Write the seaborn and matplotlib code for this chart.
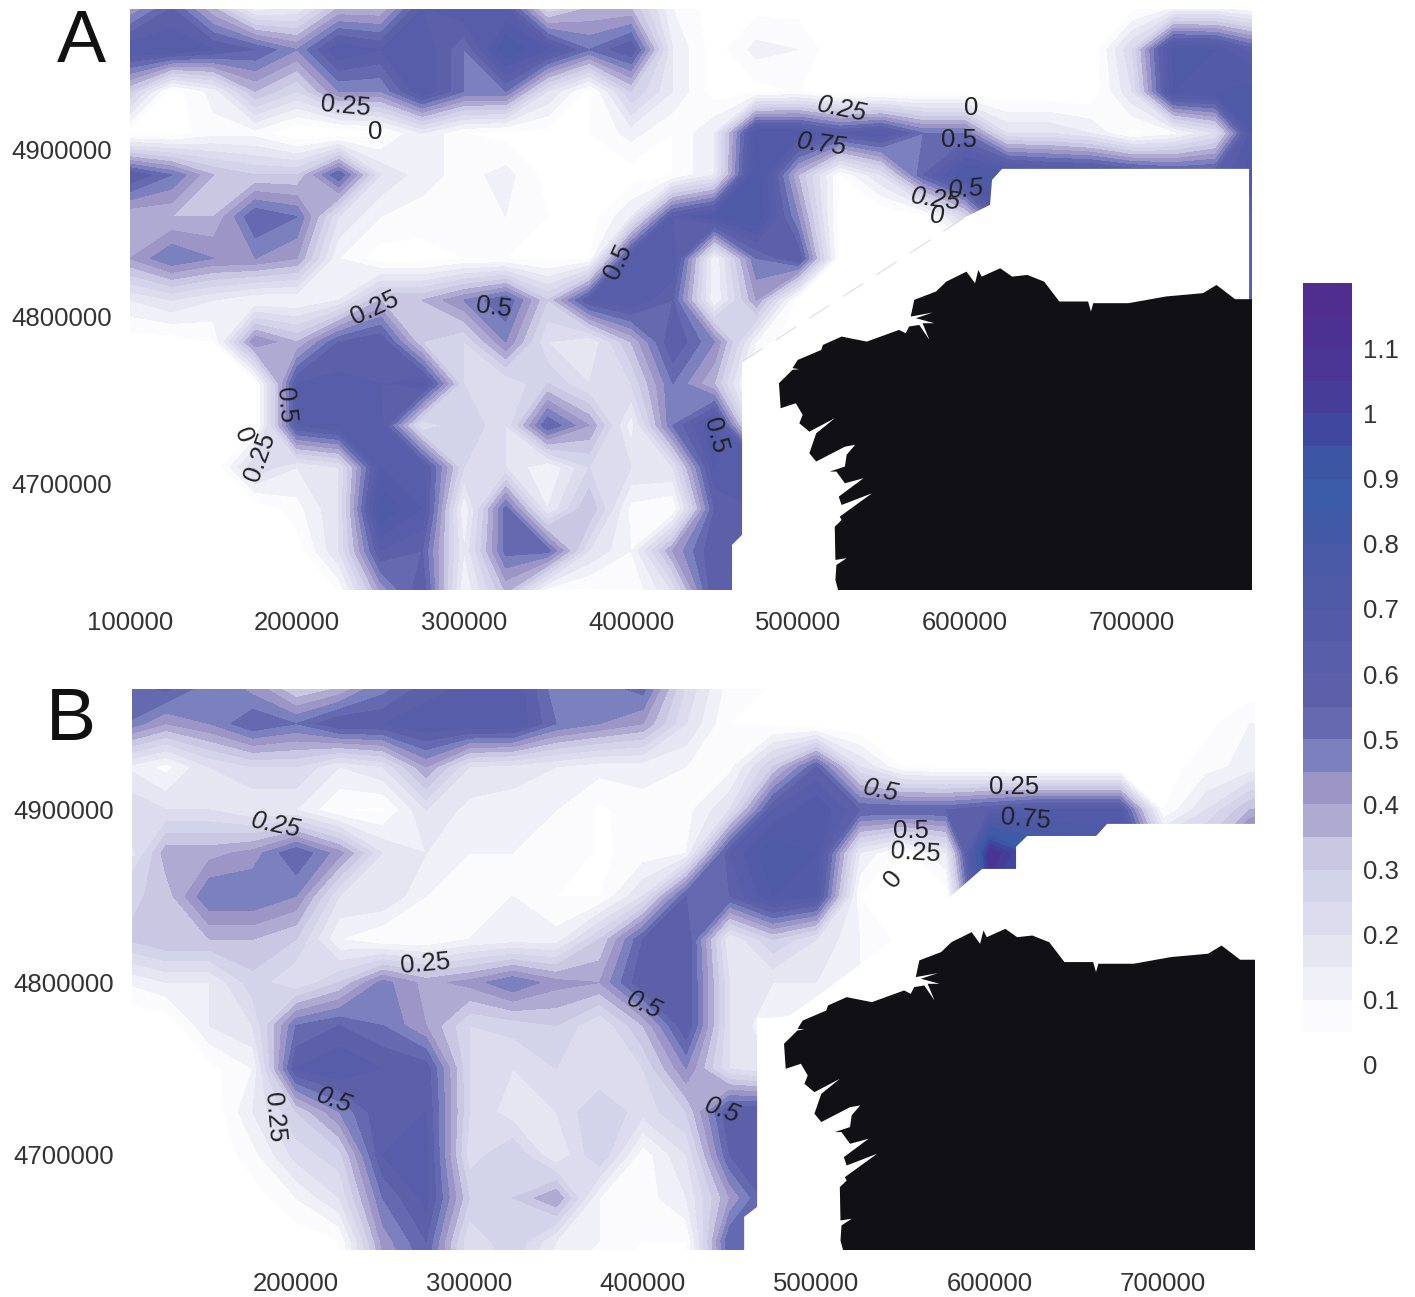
import matplotlib
matplotlib.use("Agg")

import matplotlib.pyplot as plt
import numpy as np
import seaborn as sns

# grid of the interpolated maps, metres
grid_x = np.arange(100000, 800000, 25000)
grid_y_a = np.arange(4985000, 4610000, -25000)
grid_y_b = np.arange(4975000, 4600000, -25000)

# panel A values, one row per grid_y_a
density_a = [
    [.4, .55, .35, .12, .15, .35, .35, .6, .65, .6, .25, .35, .35, .1, .02, .03, .03, 0, 0, 0, 0, 0, 0, 0, .03, .1, .1, .05],
    [.65, .65, .6, .55, .45, .65, .6, .65, .5, .75, .65, .5, .6, .15, .02, .12, .1, 0, 0, 0, 0, 0, 0, 0, .25, .72, .7, .55],
    [.3, .02, .12, .35, .25, .45, .45, .65, .5, .5, .2, .03, .3, .15, .02, .03, .05, 0, 0, 0, 0, 0, 0, 0, .2, .7, .7, .75],
    [.02, .02, .08, .08, 0, 0, .03, .15, .05, .03, .03, .05, .12, .05, .15, .7, .7, .6, .65, .5, .5, .2, .2, .15, .03, .08, .2, .75],
    [.6, .5, .35, .3, .3, .55, .2, .12, .08, .12, .03, .02, .02, .05, .15, .75, .35, .05, .2, .55, .75, .75, .7, .7, .65, .6, .6, .75],
    [.35, .35, .35, .55, .5, .2, .1, .08, .1, .1, .05, .02, .15, .6, .7, .75, .45, .02, 0, .02, .25, .7, .7, .7, .65, .6, .6, .6],
    [.4, .5, .45, .45, .4, .1, .02, .02, .05, .05, .03, .05, .65, .65, .1, .5, .6, .03, 0, 0, 0, 0, 0, 0, 0, 0, .5, .6],
    [.15, .2, .15, .1, .1, .15, .35, .35, .45, .55, .3, .6, .65, .55, .1, .4, .02, 0, 0, 0, 0, 0, 0, 0, 0, 0, .5, .6],
    [.02, .02, .05, .45, .35, .55, .6, .3, .25, .45, .2, .15, .35, .6, .45, .1] + [0] * 12,
    [0, 0, .03, .03, .6, .62, .6, .65, .25, .2, .3, .2, .25, .5, .35, 0] + [0] * 12,
    [0, 0, 0, .03, .6, .65, .62, .2, .3, .2, .55, .4, .12, .5, .7, .1] + [0] * 12,
    [0, 0, 0, .25, .15, .2, .65, .62, .25, .2, .1, .25, .2, .2, .65, .65] + [0] * 12,
    [.02, 0, 0, 0, .08, .2, .75, .65, .1, .52, .15, .35, .08, .05, .55, .6] + [0] * 12,
    [.03, .02, 0, .03, .02, .2, .6, .55, .15, .52, .52, .2, .1, .4, .6, .6] + [0] * 12,
    [.02, 0, 0, 0, 0, .05, .4, .6, .1, .35, .05, .03, .05, .2, .6, .6] + [0] * 12,
]

# panel B values, one row per grid_y_b
density_b = [
    [.55, .6, .5, .4, .25, .3, .45, .55, .6, .65, .45, .5, .55, .25, .08, .05] + [0] * 12,
    [.5, .4, .45, .55, .5, .6, .6, .65, .65, .65, .5, .45, .4, .2, .05, .03, 0, 0, 0, 0, 0, 0, 0, 0, 0, .03, .1, .1],
    [.15, .08, .2, .25, .25, .15, .2, .4, .2, .18, .15, .12, .12, .1, .08, .3, .55, .2, .05, .03, .02, 0, 0, 0, .02, .08, .12, .15],
    [.25, .2, .2, .15, .15, .05, .04, .2, .13, .12, .1, .04, .08, .08, .2, .6, .7, .55, .55, .55, .6, .65, .65, .65, .05, .2, .35, .4],
    [.12, .38, .38, .42, .55, .42, .2, .15, .1, .1, .1, .04, .07, .1, .6, .75, .7, .15, .02, .15, 1.1, .9, .8, .8, .3, .35, .6, .6],
    [.28, .32, .5, .5, .45, .2, .2, .1, .1, .1, .05, .05, .2, .55, .55, .7, .65, .05, 0, .02, 1.0, .9, .6, .6, .6, .6, .6, .6],
    [.3, .35, .35, .35, .3, .1, .05, .05, .1, .12, .12, .3, .55, .6, .15, .3, .2, .1, .03] + [0] * 9,
    [.1, .15, .15, .28, .2, .3, .47, .38, .42, .5, .42, .4, .6, .6, .2, .15, .15, .1] + [0] * 10,
    [0, 0, .15, .2, .5, .55, .5, .4, .25, .27, .3, .2, .35, .6, .2, .1] + [0] * 12,
    [0, 0, .03, .1, .6, .65, .6, .58, .25, .2, .25, .2, .25, .45, .2, .15] + [0] * 12,
    [0, 0, 0, .15, .3, .45, .6, .6, .25, .17, .2, .3, .22, .3, .6, .6] + [0] * 12,
    [0, 0, 0, .08, .22, .28, .6, .62, .22, .3, .15, .3, .07, .2, .55, .6] + [0] * 12,
    [0, 0, 0, .02, .1, .2, .5, .62, .3, .3, .4, .1, .07, .15, .4, .6] + [0] * 12,
    [.03, 0, 0, 0, .01, .05, .42, .55, .2, .3, .15, .1, .05, .05, .55, .55] + [0] * 12,
    [0, 0, 0, 0, 0, .02, .35, .5, .2, .25, .1, .05, .03, .05, .5, .5] + [0] * 12,
]

# colour bands, 0.05 wide, from 0 to 1.2
levels = np.round(np.arange(0, 1.2001, 0.05), 2)
band_colors = [
    "#ffffff", "#fbfbfd", "#eff0f8", "#e5e6f2", "#dcdcee", "#d3d3e9", "#c9c7e2", "#aeaad2",
    "#9c95c6", "#7b80bf", "#6569b0", "#5b60a9", "#575da9", "#535ba8", "#4e5aa6", "#4a5aa6",
    "#4259a6", "#3b5ca8", "#3c56a4", "#40479e", "#463d98", "#4a3594", "#4d3192", "#502e90",
]
bar_ticks = [0, .1, .2, .3, .4, .5, .6, .7, .8, .9, 1, 1.1]
bar_tick_labels = ["0", "0.1", "0.2", "0.3", "0.4", "0.5", "0.6", "0.7", "0.8", "0.9", "1", "1.1"]

# coast of panel A, km
land_x_km = [524.0, 522.4, 523.0, 529.1, 522.4, 522.0, 526.1, 525.0, 544.3, 526.1, 524.4, 539.2, 528.1, 523.0, 519.0,
             528.1, 529.1, 534.2, 528.1, 510.9, 506.8, 510.9, 522.0, 506.8, 500.8, 502.8, 498.7, 489.6, 488.6, 496.7,
             500.8, 496.7, 499.8, 513.9, 514.9, 526.1, 541.2, 560.5, 564.5, 566.5, 572.6, 578.7, 574.6, 581.7, 570.6,
             580.7, 567.5, 569.6, 582.7, 588.8, 600.9, 606.0, 608.0, 610.0, 621.1, 628.2, 637.3, 647.4, 656.5, 673.7,
             675.4, 676.8, 698.0, 720.3, 742.5, 750.6, 761.7, 771.9, 771.9]
land_y_km = [4636.5, 4642.5, 4651.5, 4655.5, 4654.5, 4674.4, 4678.4, 4680.4, 4694.4, 4687.4, 4692.4, 4703.4, 4700.4,
             4707.4, 4707.4, 4710.4, 4717.4, 4723.4, 4722.3, 4713.4, 4718.4, 4730.3, 4739.3, 4731.3, 4736.3, 4741.3,
             4748.3, 4745.3, 4760.3, 4768.3, 4768.7, 4769.3, 4774.2, 4780.2, 4783.2, 4788.2, 4785.2, 4792.2, 4790.2,
             4794.2, 4795.2, 4786.2, 4796.2, 4796.2, 4799.2, 4802.6, 4800.2, 4810.2, 4815.2, 4821.1, 4827.1, 4820.1,
             4828.1, 4824.1, 4829.1, 4824.1, 4825.1, 4821.1, 4809.2, 4809.2, 4803.2, 4808.2, 4808.2, 4812.2, 4814.2,
             4819.1, 4810.6, 4810.6, 4636.5]

# no-data areas, km
blank_x_a = [460.5, 460.5, 466.5, 466.5, 600.6, 615.0, 616.2, 622.2, 770.1, 770.1]
blank_y_a = [4630.0, 4663.5, 4669.5, 4773.1, 4859.9, 4867.1, 4882.0, 4888.6, 4888.6, 4630.0]
blank_x_b = [458.4, 458.4, 465.9, 465.9, 473.4, 484.9, 513.2, 573.1, 595.6, 615.2, 615.2, 621.6, 661.4, 667.7, 760.0, 760.0]
blank_y_b = [4640.0, 4664.1, 4669.9, 4779.4, 4779.4, 4780.6, 4801.4, 4846.1, 4865.8, 4865.8, 4878.6, 4884.9, 4884.9,
             4891.9, 4891.9, 4640.0]

# contour labels: text, x km, y km, rotation, italic
labels_a = [
    ("0.25", 229.3, 4926.3, -5, False), ("0", 246.7, 4910.8, 0, False), ("0.25", 526.3, 4924.0, -12, True),
    ("0", 603.6, 4925.1, 0, False), ("0.75", 514.4, 4903.0, -8, True), ("0.5", 596.4, 4906.0, 0, False),
    ("0.25", 582.6, 4870.1, -8, True), ("0.5", 600.6, 4876.0, 5, True), ("0", 583.2, 4860.5, 0, True),
    ("0.5", 392.2, 4832.9, 65, False), ("0.25", 246.7, 4805.4, 25, False), ("0.5", 318.0, 4805.4, -8, False),
    ("0.5", 193.4, 4747.3, -85, False), ("0", 167.7, 4729.3, -70, False), ("0.25", 177.8, 4716.2, 70, False),
    ("0.5", 450.3, 4728.7, -75, False),
]
labels_b = [
    ("0.25", 188.5, 4891.3, -12, True), ("0.25", 274.4, 4810.7, 5, False), ("0.5", 537.4, 4911.0, -12, True),
    ("0.25", 614.1, 4913.3, 0, False), ("0.75", 621.0, 4894.8, -5, False), ("0.5", 554.7, 4887.8, 0, False),
    ("0.25", 557.0, 4875.1, -4, False), ("0", 544.3, 4860.0, 50, False), ("0.5", 400.7, 4786.9, -25, True),
    ("0.5", 221.9, 4731.3, -20, True), ("0.5", 445.7, 4725.5, -20, True), ("0.25", 187.3, 4722.0, -85, False),
]

xticks_a = [100000, 200000, 300000, 400000, 500000, 600000, 700000]
xticks_b = [200000, 300000, 400000, 500000, 600000, 700000]
yticks = [4700000, 4800000, 4900000]

sns.set_theme(style="white")
plt.rcParams["font.family"] = ["Liberation Sans", "DejaVu Sans"]

W, H = 1415, 1297
TEXT = "#333333"


def px_box(left, top, right, bottom):
    return [left / W, 1 - bottom / H, (right - left) / W, (bottom - top) / H]


def draw_panel(ax, gy, values, blank_x, blank_y, land_x, land_y, labels, xticks, xlim, ylim, xpad):
    palette = sns.color_palette(band_colors)
    cf = ax.contourf(grid_x, gy, np.array(values), levels=levels, colors=palette)
    ax.fill(np.array(blank_x) * 1000, np.array(blank_y) * 1000, color="white", lw=0, zorder=2)
    ax.fill(land_x, land_y, color="#111014", lw=0, zorder=3)
    for text, x, y, rot, italic in labels:
        ax.text(x * 1000, y * 1000, text, fontsize=18.5, color="#222222", rotation=rot,
                style="italic" if italic else "normal", ha="center", va="center", zorder=4)
    ax.set_xlim(*xlim)
    ax.set_ylim(*ylim)
    ax.set_xticks(xticks)
    ax.set_yticks(yticks)
    ax.set_xticklabels([str(v) for v in xticks])
    ax.set_yticklabels([str(v) for v in yticks])
    ax.tick_params(axis="x", length=0, labelsize=18.5, labelcolor=TEXT, pad=xpad)
    ax.tick_params(axis="y", length=0, labelsize=18.5, labelcolor=TEXT, pad=13)
    sns.despine(ax=ax, left=True, bottom=True)
    return cf


fig = plt.figure(figsize=(W / 100, H / 100), dpi=100)

ax_a = fig.add_axes(px_box(130, 9, 1252, 590))
ax_b = fig.add_axes(px_box(132, 689, 1255, 1250))
cax = fig.add_axes(px_box(1303, 283, 1352, 1065))

land_x = np.array(land_x_km) * 1000
land_y = np.array(land_y_km) * 1000

cf = draw_panel(ax_a, grid_y_a, density_a, blank_x_a, blank_y_a, land_x, land_y, labels_a, xticks_a,
                (100000, 771856), (4636500, 4984300), 15)

# faint grid edge along the diagonal of panel A
ax_a.plot(np.array(blank_x_a[3:5]) * 1000, np.array(blank_y_a[3:5]) * 1000, color="#dcdcea", lw=0.8,
          dashes=(22, 14), zorder=3)

# same coast, on the slightly different scale of panel B
land_x_b = 200000 + ((land_x - 200000) * 0.00167 + 6) / 0.001734
land_y_b = 4800000 + ((land_y - 4800000) * 0.00167 + 5) / 0.001725
draw_panel(ax_b, grid_y_b, density_b, blank_x_b, blank_y_b, land_x_b, land_y_b, labels_b, xticks_b,
           (105400, 753000), (4644900, 4970100), 16)

cbar = fig.colorbar(cf, cax=cax, ticks=bar_ticks)
cbar.ax.set_yticklabels(bar_tick_labels)
cbar.ax.tick_params(length=0, labelsize=18.5, labelcolor=TEXT, pad=8)
cbar.outline.set_visible(False)

fig.text(81 / W, 1 - 43 / H, "A", fontsize=53, color="#111111", ha="center", va="center")
fig.text(71 / W, 1 - 721 / H, "B", fontsize=54, color="#111111", ha="center", va="center")

fig.savefig("out.png", dpi=100)
plt.close(fig)
